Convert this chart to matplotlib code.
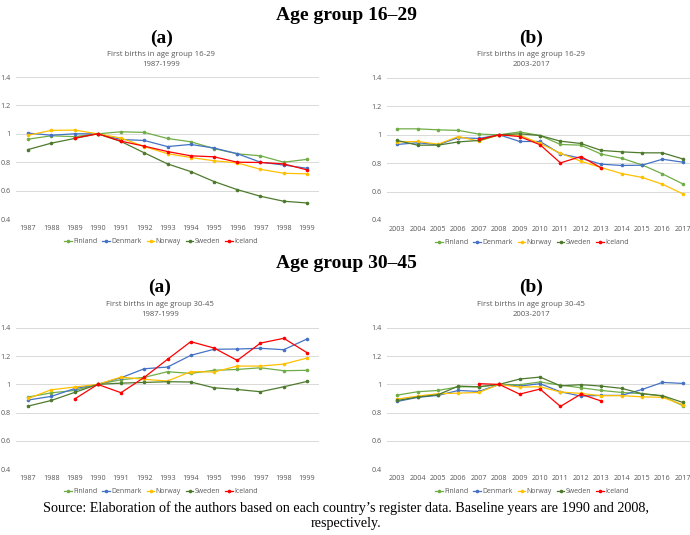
import matplotlib
matplotlib.use("Agg")
import matplotlib.pyplot as plt
from matplotlib.lines import Line2D

years_a = [str(y) for y in range(1987, 2000)]
years_b = [str(y) for y in range(2003, 2018)]
countries = ["Finland", "Denmark", "Norway", "Sweden", "Iceland"]
colors = ["#70AD47", "#4472C4", "#FFC000", "#4E7A2E", "#FF0000"]

# Age group 16-29, 1987-1999 (index 1990 = 1)
y1629_a_finland = [0.962, 0.986, 0.980, 1.0, 1.014, 1.010, 0.967, 0.944, 0.896, 0.859, 0.845, 0.800, 0.820]
y1629_a_denmark = [1.005, 0.990, 1.000, 1.0, 0.960, 0.953, 0.910, 0.925, 0.900, 0.860, 0.800, 0.780, 0.757]
y1629_a_norway = [0.990, 1.024, 1.026, 1.0, 0.970, 0.910, 0.860, 0.833, 0.810, 0.795, 0.750, 0.722, 0.718]
y1629_a_sweden = [0.889, 0.934, 0.967, 1.0, 0.946, 0.866, 0.788, 0.734, 0.664, 0.607, 0.560, 0.525, 0.513]
y1629_a_iceland = [None, None, 0.970, 1.0, 0.948, 0.913, 0.875, 0.845, 0.838, 0.800, 0.798, 0.788, 0.746]

# Age group 16-29, 2003-2017 (index 2008 = 1)
y1629_b_finland = [1.042, 1.042, 1.035, 1.031, 1.005, 1.0, 1.020, 0.995, 0.932, 0.927, 0.864, 0.835, 0.788, 0.725, 0.654]
y1629_b_denmark = [0.932, 0.944, 0.930, 0.980, 0.974, 1.0, 0.953, 0.953, 0.866, 0.835, 0.793, 0.784, 0.786, 0.828, 0.807]
y1629_b_norway = [0.950, 0.953, 0.934, 0.988, 0.955, 1.0, 0.998, 0.939, 0.870, 0.814, 0.769, 0.727, 0.700, 0.652, 0.584]
y1629_b_sweden = [0.960, 0.927, 0.927, 0.950, 0.960, 1.0, 1.007, 0.995, 0.955, 0.939, 0.890, 0.880, 0.873, 0.873, 0.830]
y1629_b_iceland = [None, None, None, None, 0.967, 1.0, 0.988, 0.930, 0.802, 0.847, 0.767, None, None, None, None]

# Age group 30-45, 1987-1999 (index 1990 = 1)
y3045_a_finland = [0.910, 0.940, 0.957, 1.0, 1.033, 1.050, 1.090, 1.078, 1.100, 1.106, 1.118, 1.097, 1.100]
y3045_a_denmark = [0.889, 0.915, 0.970, 1.0, 1.047, 1.111, 1.123, 1.206, 1.249, 1.251, 1.256, 1.246, 1.322]
y3045_a_norway = [0.900, 0.962, 0.981, 1.0, 1.052, 1.036, 1.024, 1.090, 1.088, 1.130, 1.130, 1.144, 1.187]
y3045_a_sweden = [0.846, 0.886, 0.943, 1.0, 1.009, 1.014, 1.019, 1.017, 0.976, 0.964, 0.948, 0.983, 1.021]
y3045_a_iceland = [None, None, 0.896, 1.0, 0.941, 1.050, 1.178, 1.303, 1.258, 1.170, 1.293, 1.327, 1.225]

# Age group 30-45, 2003-2017 (index 2008 = 1)
y3045_b_finland = [0.924, 0.948, 0.957, 0.983, 0.983, 1.0, 0.998, 1.017, 0.995, 0.976, 0.957, 0.943, 0.934, 0.917, 0.849]
y3045_b_denmark = [0.879, 0.908, 0.922, 0.957, 0.950, 1.0, 0.988, 1.005, 0.948, 0.917, 0.922, 0.922, 0.964, 1.014, 1.007]
y3045_b_norway = [0.896, 0.917, 0.934, 0.938, 0.943, 1.0, 0.981, 0.983, 0.946, 0.936, 0.920, 0.920, 0.912, 0.908, 0.856]
y3045_b_sweden = [0.886, 0.910, 0.927, 0.988, 0.983, 1.0, 1.038, 1.052, 0.990, 0.998, 0.988, 0.972, 0.934, 0.920, 0.872]
y3045_b_iceland = [None, None, None, None, 1.005, 1.0, 0.931, 0.967, 0.844, 0.931, 0.882, None, None, None, None]

yticks = [0.4, 0.6, 0.8, 1.0, 1.2, 1.4]
ytick_labels = ["0.4", "0.6", "0.8", "1", "1.2", "1.4"]

W, H = 690, 535
fig = plt.figure(figsize=(W / 100, H / 100), dpi=100)

SANS = ["Open Sans", "DejaVu Sans"]
SERIF = ["Liberation Serif", "DejaVu Serif"]
GRAY = "#595959"


def ax_at(x0, y_top, x1, y_bot):
    return fig.add_axes([x0 / W, 1 - y_bot / H, (x1 - x0) / W, (y_bot - y_top) / H])


def ftext(x, y, s, **kw):
    fig.text(x / W, 1 - y / H, s, ha="center", va="center", **kw)


def panel(ax, years, series, title_lines, title_x, title_y, right_pad=0.5):
    for vals, c, name in zip(series, colors, countries):
        xs = [i for i, v in enumerate(vals) if v is not None]
        ys = [v for v in vals if v is not None]
        ax.plot(xs, ys, color=c, lw=0.9, marker="o", ms=1.6, label=name)
    ax.set_ylim(0.4, 1.4)
    ax.set_xlim(-0.5, len(years) - 1 + right_pad)
    ax.set_yticks(yticks)
    ax.set_yticklabels(ytick_labels)
    ax.set_xticks(range(len(years)))
    ax.set_xticklabels(years)
    ax.tick_params(length=0, labelsize=5.2, colors=GRAY, pad=4)
    for lab in ax.get_xticklabels() + ax.get_yticklabels():
        lab.set_family(SANS)
    ax.grid(axis="y", color="#D9D9D9", lw=0.7)
    ax.set_axisbelow(True)
    for s in ax.spines.values():
        s.set_visible(False)
    ftext(title_x, title_y, title_lines[0], fontsize=5.6, color=GRAY, family=SANS)
    ftext(title_x, title_y + 11, title_lines[1], fontsize=5.6, color=GRAY, family=SANS)
    handles = [Line2D([], [], color=c, lw=0.9, marker="o", ms=1.6) for c in colors]
    leg = ax.legend(handles, countries, loc="upper center", bbox_to_anchor=(0.479, -0.115),
                    ncol=5, frameon=False, handlelength=1.1,
                    handletextpad=0.2, columnspacing=0.7, borderaxespad=0,
                    prop={"family": SANS, "size": 5.0})
    for t in leg.get_texts():
        t.set_color(GRAY)


ax1 = ax_at(16.4, 77, 318.6, 219)
panel(ax1, years_a, [y1629_a_finland, y1629_a_denmark, y1629_a_norway, y1629_a_sweden, y1629_a_iceland],
      ["First births in age group 16-29", "1987-1999"], 161, 54)

ax2 = ax_at(387, 78, 690, 220)
panel(ax2, years_b, [y1629_b_finland, y1629_b_denmark, y1629_b_norway, y1629_b_sweden, y1629_b_iceland],
      ["First births in age group 16-29", "2003-2017"], 531, 54, right_pad=0.35)

ax3 = ax_at(16.4, 328, 318.6, 469)
panel(ax3, years_a, [y3045_a_finland, y3045_a_denmark, y3045_a_norway, y3045_a_sweden, y3045_a_iceland],
      ["First births in age group 30-45", "1987-1999"], 160, 304)

ax4 = ax_at(387, 328, 690, 469)
panel(ax4, years_b, [y3045_b_finland, y3045_b_denmark, y3045_b_norway, y3045_b_sweden, y3045_b_iceland],
      ["First births in age group 30-45", "2003-2017"], 531, 304, right_pad=0.35)


HS = 14
ftext(346, 15, "Age group 16–29", fontsize=HS, fontweight="bold", family=SERIF)
ftext(162, 38, "(a)", fontsize=HS, fontweight="bold", family=SERIF)
ftext(531, 38, "(b)", fontsize=HS, fontweight="bold", family=SERIF)
ftext(346, 264, "Age group 30–45", fontsize=HS, fontweight="bold", family=SERIF)
ftext(160, 287, "(a)", fontsize=HS, fontweight="bold", family=SERIF)
ftext(531, 287, "(b)", fontsize=HS, fontweight="bold", family=SERIF)
ftext(346, 508, "Source: Elaboration of the authors based on each country’s register data. Baseline years are 1990 and 2008,",
      fontsize=10.2, family=SERIF)
ftext(346, 523, "respectively.", fontsize=10.2, family=SERIF)

fig.savefig("out.png", dpi=100)
